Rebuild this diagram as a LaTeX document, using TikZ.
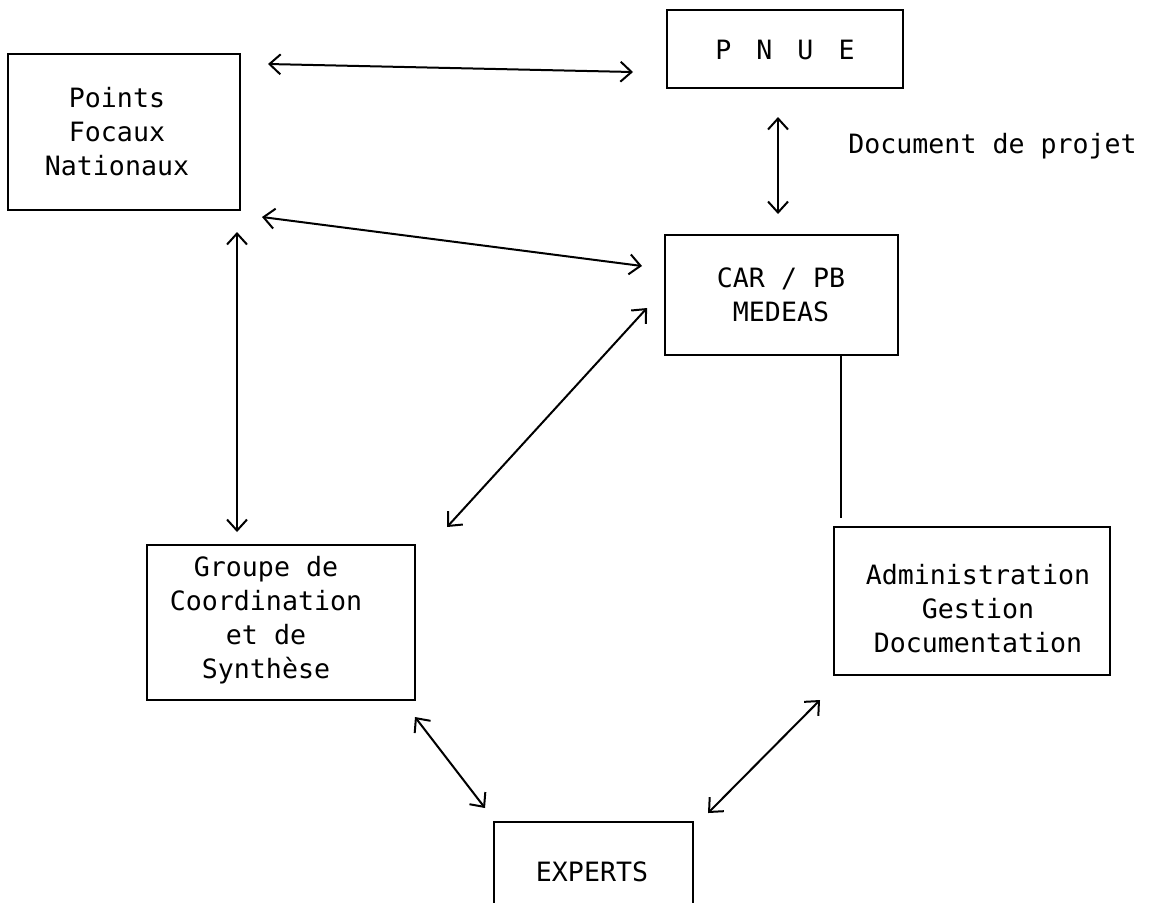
\documentclass[tikz,border=0pt]{standalone}
\usepackage{fontspec}
\newfontfamily\plotfont{DejaVu Sans Mono}
\usetikzlibrary{arrows.meta}
\begin{document}
\begin{tikzpicture}[x=0.5pt,y=-0.5pt,
  box/.style={draw,line width=1pt,inner sep=0pt,outer sep=0pt},
  lbl/.style={font=\plotfont\fontsize{13.3}{17}\selectfont,align=center,inner sep=0pt},
  link/.style={line width=1pt,{Straight Barb[length=5.5pt,width=10pt]}-{Straight Barb[length=5.5pt,width=10pt]}},
  plainline/.style={line width=1pt}]
\useasboundingbox (0,0) rectangle (1154,902);
\fill[white] (0,0) rectangle (1154,902);
\clip (0,0) rectangle (1154,902);

% boxes
\node[box,minimum width=116pt,minimum height=78pt] (pf) at (124,132) {};
\node[lbl] (pft) at (117,132) {Points\\Focaux\\Nationaux};

\node[box,minimum width=118pt,minimum height=39pt] (pnue) at (785,49) {};
\node[lbl] (pnuet) at (785,50) {P\hspace{12.5pt}N\hspace{12.5pt}U\hspace{12.5pt}E};

\node[box,minimum width=116.5pt,minimum height=60pt] (car) at (781.5,295) {};
\node[lbl] (cart) at (781,295) {CAR / PB\\MEDEAS};

\node[box,minimum width=134pt,minimum height=77.5pt] (grp) at (281,622.5) {};
\node[lbl] (grpt) at (266,620) {Groupe de\\Coordination\\et de\\Synthèse};

\node[box,minimum width=138pt,minimum height=74pt] (adm) at (972,601) {};
\node[lbl] (admt) at (978,609) {Administration\\Gestion\\Documentation};

\node[box,minimum width=99.5pt,minimum height=69pt] (exp) at (593.5,891) {};
\node[lbl] (expt) at (592,872) {EXPERTS};

\node[lbl,anchor=west] (doc) at (848,146) {Document de projet};

% connector ends
\coordinate (pfA) at (268,64);   \coordinate (pnueA) at (633,72);
\coordinate (pnueB) at (778,117); \coordinate (carB) at (778,214);
\coordinate (pfC) at (262,217);  \coordinate (carC) at (642,266);
\coordinate (pfD) at (237,232);  \coordinate (grpD) at (237,532);
\coordinate (carE) at (647,308); \coordinate (grpE) at (447,527);
\coordinate (carF) at (841,355); \coordinate (admF) at (841,518);
\coordinate (grpG) at (415,717); \coordinate (expG) at (485,808);
\coordinate (admH) at (820,700); \coordinate (expH) at (708,813);

\draw[link] (pfA) -- (pnueA);
\draw[link] (pnueB) -- (carB);
\draw[link] (pfC) -- (carC);
\draw[link] (pfD) -- (grpD);
\draw[link] (carE) -- (grpE);
\draw[plainline] (carF) -- (admF);
\draw[link] (grpG) -- (expG);
\draw[link] (admH) -- (expH);
\end{tikzpicture}
\end{document}
